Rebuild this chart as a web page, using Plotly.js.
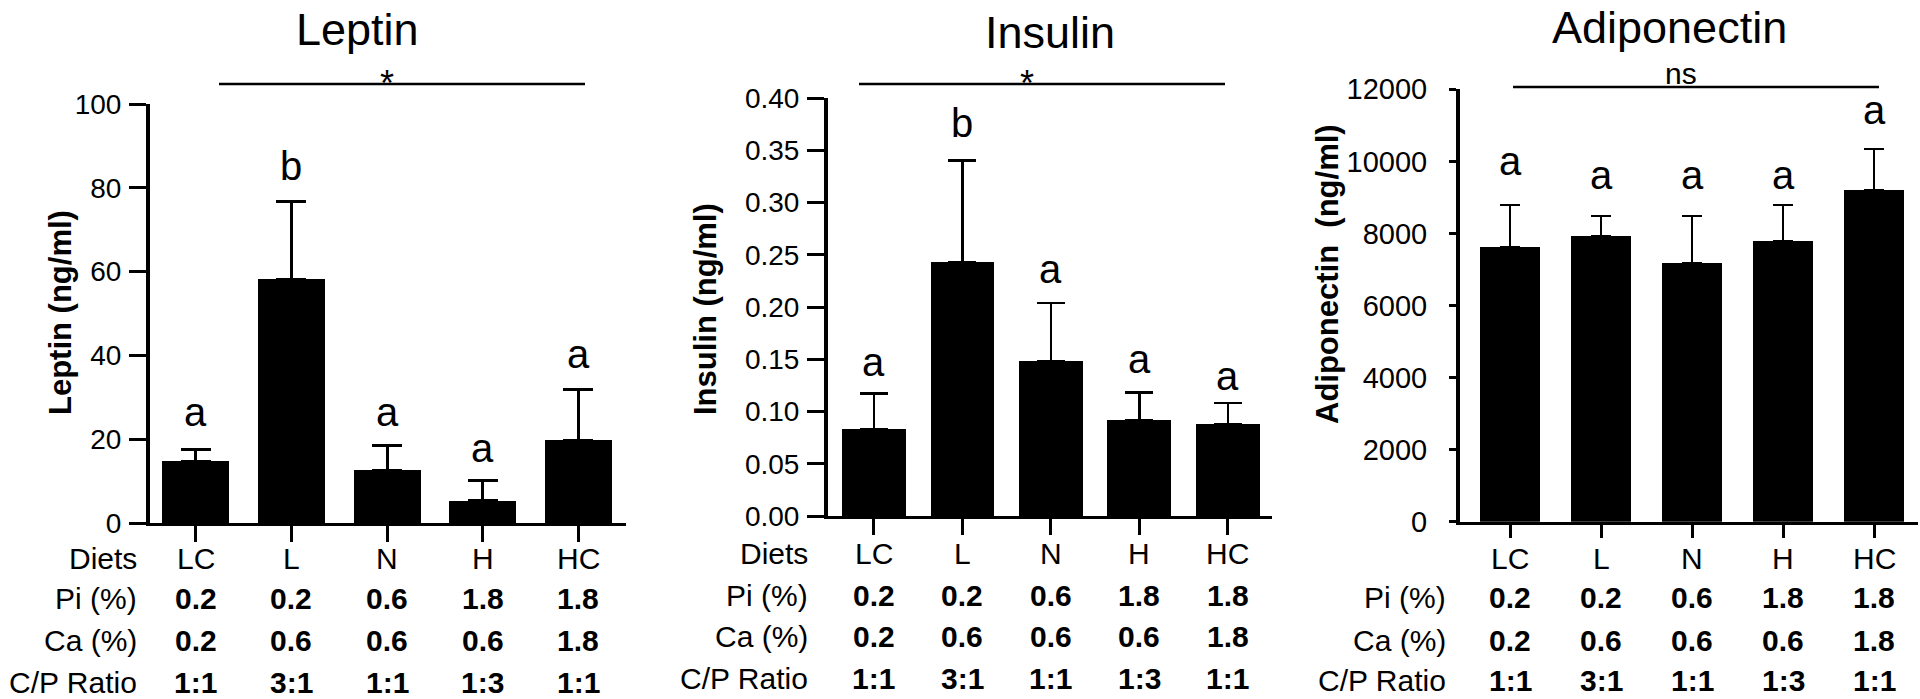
<!DOCTYPE html>
<html>
<head>
<meta charset="utf-8">
<script src="https://cdn.plot.ly/plotly-3.0.1.min.js"></script>
<style>
  html, body { margin: 0; padding: 0; background: #fff; }
  #chart { width: 1920px; height: 699px; }
</style>
</head>
<body>
<div id="chart"></div>
<script>
// diet table
var diets = ['LC', 'L', 'N', 'H', 'HC'];
var piPct = ['0.2', '0.2', '0.6', '1.8', '1.8'];
var caPct = ['0.2', '0.6', '0.6', '0.6', '1.8'];
var cpRatio = ['1:1', '3:1', '1:1', '1:3', '1:1'];
var rowLabels = ['Diets', 'Pi (%)', 'Ca (%)', 'C/P Ratio'];

// means and SEM
var leptin = [14.7, 58.2, 12.6, 5.3, 19.8];
var leptinErr = [2.9, 18.6, 5.8, 4.9, 12.0];
var leptinLetters = ['a', 'b', 'a', 'a', 'a'];
var leptinLetterY = [26.5, 85.3, 26.5, 18, 40.4];

var insulin = [0.083, 0.243, 0.148, 0.092, 0.088];
var insulinErr = [0.034, 0.097, 0.056, 0.026, 0.020];
var insulinLetters = ['a', 'b', 'a', 'a', 'a'];
var insulinLetterY = [0.147, 0.376, 0.236, 0.150, 0.134];

var adipo = [7630, 7935, 7180, 7785, 9215];
var adipoErr = [1165, 560, 1315, 1005, 1135];
var adipoLetters = ['a', 'a', 'a', 'a', 'a'];
var adipoLetterY = [10000, 9627, 9627, 9627, 11422];

var W = 1920, H = 699;
function px(x) { return x / W; }
function py(y) { return (H - y) / H; }

var FONT = 'Liberation Sans, Arial, sans-serif';
var idx = [0, 1, 2, 3, 4];

function barTrace(vals, errs, xa, ya, w, capW, thick) {
  return {
    type: 'bar', x: idx, y: vals, xaxis: xa, yaxis: ya, width: w,
    marker: {color: '#000', line: {width: 0}},
    error_y: {type: 'data', symmetric: false, array: errs,
      arrayminus: errs.map(function () { return 0; }),
      color: '#000', thickness: thick, width: capW},
    hoverinfo: 'x+y', showlegend: false
  };
}

var data = [
  barTrace(leptin, leptinErr, 'x', 'y', 0.70, 15, 3),
  barTrace(insulin, insulinErr, 'x2', 'y2', 0.72, 14, 2.5),
  barTrace(adipo, adipoErr, 'x3', 'y3', 0.66, 10, 2)
];

function xAxis(dom, rng, tlen) {
  return {domain: dom, range: rng, tickvals: idx, showticklabels: false,
    ticks: 'outside', ticklen: tlen, tickwidth: 3, tickcolor: '#000',
    showline: true, linewidth: 3, linecolor: '#000',
    showgrid: false, zeroline: false, fixedrange: true};
}
function yAxis(dom, rng, dt, fmt, anchor, tlen, tsize, standoff) {
  return {domain: dom, range: rng, dtick: dt, tickformat: fmt, anchor: anchor,
    ticks: 'outside', ticklen: tlen, tickwidth: 3, tickcolor: '#000',
    ticklabelstandoff: standoff,
    tickfont: {family: FONT, size: tsize, color: '#000'},
    showline: true, linewidth: 4, linecolor: '#000',
    showgrid: false, zeroline: false, fixedrange: true};
}

var annotations = [];
var shapes = [];

function panel(xa, ya, letters, letterY, titleText, titleX, titleY,
               yTitle, yTitleX, yTitleY, sigText, sigX1, sigX2, sigY, sigTextY,
               rowY, labelRight, withDiets) {
  annotations.push({xref: 'paper', yref: 'paper', x: px(titleX), y: py(titleY),
    xanchor: 'center', yanchor: 'middle', text: titleText, showarrow: false,
    borderpad: 0, font: {family: FONT, size: 45, color: '#000'}});
  annotations.push({xref: 'paper', yref: 'paper', x: px(yTitleX), y: py(yTitleY),
    xanchor: 'center', yanchor: 'middle', text: '<b>' + yTitle + '</b>',
    textangle: -90, showarrow: false,
    font: {family: FONT, size: 31, color: '#000'}});
  shapes.push({type: 'line', xref: 'paper', yref: 'paper',
    x0: px(sigX1), x1: px(sigX2), y0: py(sigY), y1: py(sigY),
    line: {color: '#000', width: 2.5}});
  annotations.push({xref: 'paper', yref: 'paper', x: px((sigX1 + sigX2) / 2 - 15),
    y: py(sigTextY), xanchor: 'center', yanchor: 'middle', text: sigText,
    borderpad: 0, showarrow: false,
    font: {family: FONT, size: sigText === '*' ? 36 : 30, color: '#000'}});
  idx.forEach(function (i) {
    annotations.push({xref: xa, yref: ya, x: i, y: letterY[i], text: letters[i],
      xanchor: 'center', yanchor: 'middle', showarrow: false,
      font: {family: FONT, size: 40, color: '#000'}});
  });
  var rows = [diets, piPct, caPct, cpRatio];
  rows.forEach(function (row, r) {
    if (r > 0 || withDiets) {
      annotations.push({xref: 'paper', yref: 'paper', x: px(labelRight), y: py(rowY[r]),
        xanchor: 'right', yanchor: 'middle', text: rowLabels[r], showarrow: false,
        font: {family: FONT, size: 30, color: '#000'}});
    }
    idx.forEach(function (i) {
      annotations.push({xref: xa, yref: 'paper', x: i, y: py(rowY[r]),
        xanchor: 'center', yanchor: 'middle',
        text: r === 0 ? row[i] : '<b>' + row[i] + '</b>', showarrow: false,
        font: {family: FONT, size: 30, color: '#000'}});
    });
  });
}

panel('x', 'y', leptinLetters, leptinLetterY, 'Leptin', 357, 29,
  'Leptin (ng/ml)', 60, 313, '*', 219, 585, 84, 84,
  [558, 598, 640, 682], 139, true);
panel('x2', 'y2', insulinLetters, insulinLetterY, 'Insulin', 1050, 32,
  'Insulin (ng/ml)', 705, 309, '*', 859, 1225, 84, 84,
  [553, 595, 636, 678], 810, true);
panel('x3', 'y3', adipoLetters, adipoLetterY, 'Adiponectin', 1669, 27,
  'Adiponectin&nbsp;&nbsp;(ng/ml)', 1327, 274, 'ns', 1513, 1879, 87, 73,
  [558, 597, 640, 680], 1448, false);

var layout = {
  width: W, height: H,
  margin: {l: 0, r: 0, t: 0, b: 0},
  paper_bgcolor: '#fff', plot_bgcolor: '#fff',
  font: {family: FONT, color: '#000'},
  showlegend: false,
  bargap: 0,
  xaxis: xAxis([px(150), px(626)], [-0.48, 4.5], 16),
  yaxis: yAxis([py(523), py(104)], [0, 100], 20, 'd', 'x', 17, 28, 2),
  xaxis2: xAxis([px(828), px(1272)], [-0.52, 4.5], 16),
  yaxis2: yAxis([py(516), py(98)], [0, 0.4], 0.05, '.2f', 'x2', 17, 28, 2),
  xaxis3: xAxis([px(1460), px(1918)], [-0.55, 4.48], 13),
  yaxis3: yAxis([py(521.7), py(89.3)], [0, 12000], 2000, 'd', 'x3', 7, 29, 16),
  annotations: annotations,
  shapes: shapes
};
layout.xaxis.anchor = 'y';
layout.xaxis2.anchor = 'y2';
layout.xaxis3.anchor = 'y3';

Plotly.newPlot('chart', data, layout, {displayModeBar: false, staticPlot: true});
</script>
</body>
</html>
